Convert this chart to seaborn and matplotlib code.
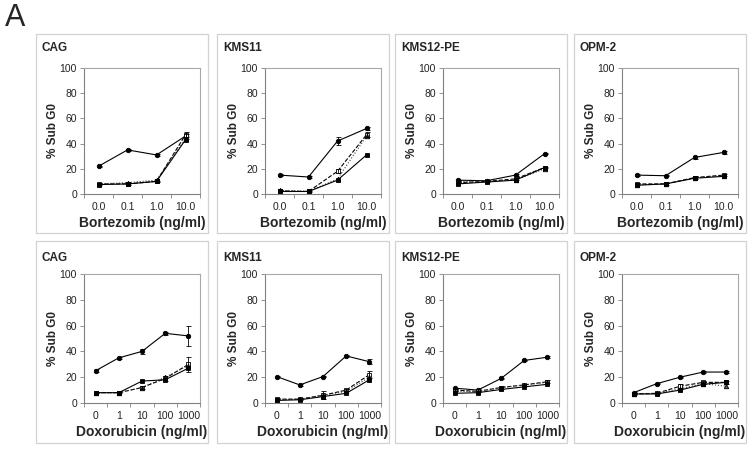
import numpy as np
import pandas as pd
import seaborn as sns
import matplotlib.pyplot as plt
from matplotlib.patches import Rectangle

# categories
cell_lines = ["CAG", "KMS11", "KMS12-PE", "OPM-2"]
bort_doses = ["0.0", "0.1", "1.0", "10.0"]
dox_doses = ["0", "1", "10", "100", "1000"]

# Bortezomib panels: one list per cell line (CAG, KMS11, KMS12-PE, OPM-2)
bort_s1 = [[22, 35, 31, 46], [15, 13.5, 42, 52], [11, 10.5, 15, 32], [15, 14.5, 29, 33]]
bort_s2 = [[8, 8, 10, 47], [2.5, 2, 18, 47], [9, 10, 12, 21], [8, 8, 13, 15]]
bort_s3 = [[8, 9, 11, 44], [3, 2, 12, 46], [10, 10, 11, 20], [7, 8, 13, 14.5]]
bort_s4 = [[7.5, 8, 10, 43], [2, 2, 11, 31], [8, 9.5, 11, 21], [7, 8, 12.5, 14]]
bort_s1_err = [[0.5, 0.5, 1, 2], [0.5, 0.5, 3, 1], [0.5, 0.5, 1, 0.5], [0.5, 0.5, 1.5, 1]]
bort_s2_err = [[0.5, 1, 0.5, 2], [0.5, 0.5, 1.5, 2], [0.5, 0.5, 1, 0.5], [0.5, 0.5, 1, 1]]

# Doxorubicin panels
dox_s1 = [[25, 35, 40, 54, 52], [20.5, 14, 20.5, 36.5, 32], [11.5, 10, 19, 33, 35.5], [8, 15, 20, 24, 24]]
dox_s2 = [[8, 8, 12, 19, 30], [3, 3, 6, 10, 22], [10, 9, 12, 14, 16.5], [7, 7.5, 13, 16, 16]]
dox_s3 = [[8, 8, 12, 20, 29], [2.5, 3, 6, 9, 20], [9, 9, 12, 14, 16], [7, 7.5, 11, 15, 13]]
dox_s4 = [[8, 8, 17, 18, 27], [2, 2.5, 5, 7.5, 18], [7.5, 8, 10.5, 12.5, 14.5], [7, 7, 10, 14.5, 16]]
dox_s1_err = [[1, 1, 2, 1, 8], [0.5, 0.5, 0.5, 0.5, 2], [0.5, 0.5, 0.5, 0.5, 1], [0.5, 0.5, 0.5, 0.5, 0.5]]
dox_s2_err = [[0.5, 0.5, 1, 2, 6], [0.5, 0.5, 3, 1, 3], [0.5, 0.5, 1, 1, 1], [0.5, 0.5, 1.5, 1, 1]]

sns.set_theme(style="white")
plt.rcParams['font.family'] = ['Liberation Sans', 'DejaVu Sans']

W, H = 753, 450
fig = plt.figure(figsize=(W / 100, H / 100), dpi=100)

def fx(px):
    return px / W

def fy(py):
    return 1 - py / H

box_lefts = [36, 217, 395, 574]
box_w = 172
ax_off = 48
ax_w = 116

styles = [
    dict(linestyle="-", marker="o", markersize=3.2, markerfacecolor="black", color="black"),
    dict(linestyle="--", marker="s", markersize=3.2, markerfacecolor="white", color="black"),
    dict(linestyle=":", marker="^", markersize=3.2, markerfacecolor="#555555", color="#444444"),
    dict(linestyle="-", marker="s", markersize=3.0, markerfacecolor="black", color="black"),
]

rows = [
    dict(doses=bort_doses, series=[bort_s1, bort_s2, bort_s3, bort_s4], errs=[bort_s1_err, bort_s2_err],
         xlabel="Bortezomib (ng/ml)", ax_top=68, ax_bot=194, box_top=34, box_bot=233, title_y=48, xlab_y=223),
    dict(doses=dox_doses, series=[dox_s1, dox_s2, dox_s3, dox_s4], errs=[dox_s1_err, dox_s2_err],
         xlabel="Doxorubicin (ng/ml)", ax_top=274, ax_bot=403, box_top=241, box_bot=443, title_y=258, xlab_y=432),
]

for r in rows:
    n = len(r["doses"])
    x = np.arange(n)
    for col, cell in enumerate(cell_lines):
        bl = box_lefts[col]
        fig.patches.append(Rectangle((fx(bl), fy(r["box_bot"])), box_w / W,
                                     (r["box_bot"] - r["box_top"]) / H, transform=fig.transFigure,
                                     fill=False, edgecolor="#d2d2d2", lw=0.9))
        ax = fig.add_axes([fx(bl + ax_off), fy(r["ax_bot"]), ax_w / W, (r["ax_bot"] - r["ax_top"]) / H])

        for k, st in enumerate(styles):
            vals = r["series"][k][col]
            sns.lineplot(x=x, y=vals, ax=ax, lw=0.8, markeredgecolor="black",
                         markeredgewidth=0.6, **st)
        for k, err in enumerate(r["errs"]):
            ax.errorbar(x, r["series"][k][col], yerr=err[col], fmt="none", ecolor="black",
                        elinewidth=0.6, capsize=1.8, capthick=0.6)

        ax.set_xlim(-0.5, n - 0.5)
        ax.set_ylim(0, 100)
        ax.set_yticks([0, 20, 40, 60, 80, 100])
        ax.set_xticks(x)
        ax.set_xticklabels(r["doses"])
        ax.set_xticks(np.arange(-0.5, n), minor=True)
        ax.tick_params(axis="y", left=True, direction="out", length=3, width=0.6, color="#808080",
                       labelsize=7.5, labelcolor="#222222", pad=2)
        ax.tick_params(axis="x", which="major", bottom=True, length=0, labelsize=7.5,
                       labelcolor="#222222", pad=6)
        ax.tick_params(axis="x", which="minor", bottom=True, direction="out", length=3, width=0.6,
                       color="#808080")
        for side in ["left", "bottom"]:
            ax.spines[side].set_color("#808080")
            ax.spines[side].set_linewidth(0.8)
        for side in ["top", "right"]:
            ax.spines[side].set_color("#a8a8a8")
            ax.spines[side].set_linewidth(0.8)
        ax.set_xlabel("")
        ax.set_ylabel("")

        fig.text(fx(bl + 6), fy(r["title_y"]), cell, fontsize=8.5, fontweight="bold",
                 ha="left", va="center")
        fig.text(fx(bl + 17), fy((r["ax_top"] + r["ax_bot"]) / 2), "% Sub G0", fontsize=8.5,
                 fontweight="bold", rotation=90, ha="center", va="center")
        fig.text(fx(bl + ax_off + ax_w / 2), fy(r["xlab_y"]), r["xlabel"], fontsize=10,
                 fontweight="bold", ha="center", va="center")

fig.text(fx(5), fy(18), "A", fontsize=22, ha="left", va="center")

fig.savefig("out.png", dpi=100)
